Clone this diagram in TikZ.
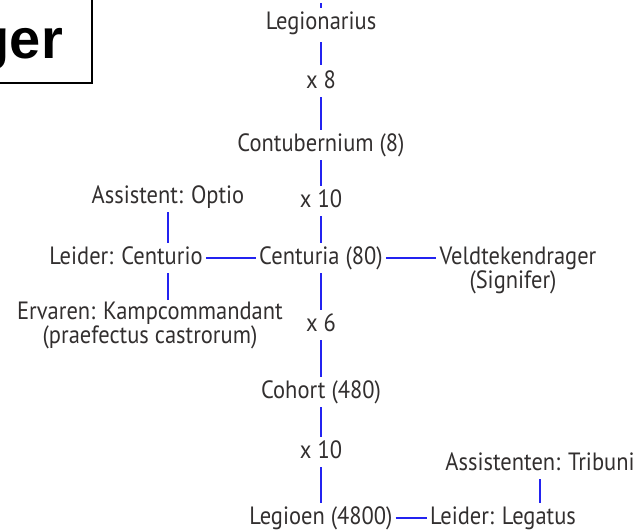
\documentclass[tikz,border=0pt]{standalone}
\usepackage{fontspec}
\setmainfont{PT Sans}[FakeStretch = 0.9]
\newfontfamily\kopfont{Liberation Sans}
\usepackage{xcolor}
\usetikzlibrary{calc}

\definecolor{lijnblauw}{RGB}{35,35,240}
\definecolor{tekstgrijs}{RGB}{50,47,47}

\begin{document}
\begin{tikzpicture}[x = 1pt, y = -1pt,
  rang/.style = {text = tekstgrijs, font = \fontsize{25}{21}\selectfont,
                 inner xsep = 3pt, inner ysep = 5pt,
                 text height = 16pt, text depth = 4pt},
  rangtwee/.style = {text = tekstgrijs, font = \fontsize{25}{20}\selectfont,
                     align = center, inner xsep = 3pt, inner ysep = 2pt},
  lijnstuk/.style = {lijnblauw, line width = 1.2pt}]

\useasboundingbox (0,0) rectangle (637,530);

% kader met titel, valt buiten de pagina
\draw[line width = 1.5pt] (-20,-20) -- (92,-20) -- (92,83) -- (-20,83);
\node[anchor = base east, inner sep = 0pt,
      font = \kopfont\bfseries\fontsize{56}{60}\selectfont] (Kop) at (63,58) {ger};

% hoofdkolom
\coordinate (Top) at (321,3);
\node[rang] (Leg) at (321,23) {Legionarius};
\node[rang] (Xacht) at (321,82) {x 8};
\node[rang] (Cont) at (321,145) {Contubernium (8)};
\node[rang] (Xtien) at (321,201) {x 10};
\node[rang] (Cent) at (321,258) {Centuria (80)};
\node[rang] (Xzes) at (321,325) {x 6};
\node[rang] (Coh) at (321,392) {Cohort (480)};
\node[rang] (Xtienb) at (321,452) {x 10};
\node[rang] (Legioen) at (321,518) {Legioen (4800)};

% zijtakken
\node[rang] (Optio) at (168,197) {Assistent: Optio};
\node[rang] (Centurio) at (126,258) {Leider: Centurio};
\node[rangtwee, anchor = north] (Ervaren) at (150,300)
  {Ervaren: Kampcommandant\\(praefectus castrorum)};
\node[rang] (Veld) at (518,258) {Veldtekendrager};
\node[rang] (Signifer) at (513,282) {(Signifer)};
\node[rang] (Tribuni) at (540,464) {Assistenten: Tribuni};
\node[rang] (Legatus) at (503,518) {Leider: Legatus};

\draw[lijnstuk] (Top) -- (Leg);
\draw[lijnstuk, shorten <= 4pt, shorten >= 2pt] (Leg) -- (Xacht);
\draw[lijnstuk] (Xacht) -- (Cont);
\draw[lijnstuk] (Cont) -- (Xtien);
\draw[lijnstuk] (Xtien) -- (Cent);
\draw[lijnstuk] (Cent) -- (Xzes);
\draw[lijnstuk] (Xzes) -- (Coh);
\draw[lijnstuk] (Coh) -- (Xtienb);
\draw[lijnstuk] (Xtienb) -- (Legioen);

\draw[lijnstuk] (Optio) -- (Optio |- Centurio.north);
\draw[lijnstuk] (Optio |- Centurio.south) -- (Optio |- Ervaren.north);
\draw[lijnstuk] (Centurio) -- (Cent);
\draw[lijnstuk] (Cent) -- (Veld);
\draw[lijnstuk] (Legioen) -- (Legatus);
\draw[lijnstuk] (Tribuni) -- (Tribuni |- Legatus.north);

\end{tikzpicture}
\end{document}
